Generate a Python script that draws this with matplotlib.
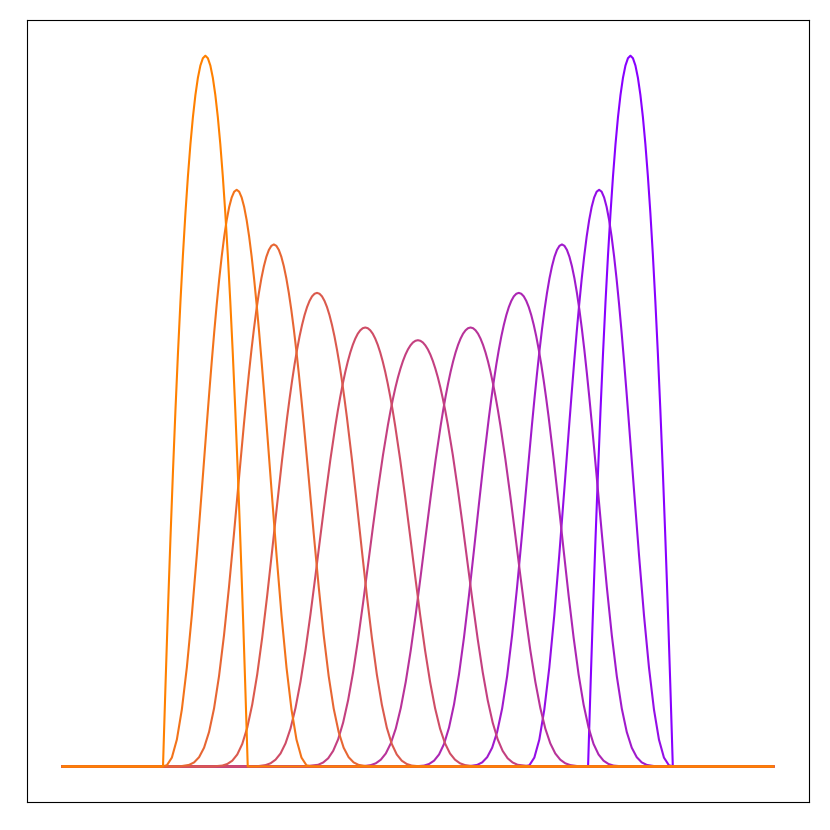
import numpy as np
import matplotlib
matplotlib.use("Agg")
import matplotlib.pyplot as plt

# horizontal extent of every line (flat zero outside the bumps)
x_start = 62
x_end = 775

# peak positions of the 11 bumps, left to right
centers = [205.3, 236.7, 274.0, 317.3, 365.7, 418.5, 471.3, 519.7, 563.0, 600.3, 631.7]

# which half-profile each bump uses (chart is mirror symmetric)
shape_of = [0, 1, 2, 3, 4, 5, 4, 3, 2, 1, 0]

# half profiles: distance from the peak -> height
d0 = [0, 2.5, 5, 7.5, 10, 12.5, 15, 17.5, 20, 22.5, 25, 27.5, 30, 32.5, 35,
      36.5, 38, 40, 41.5, 42.5]
h0 = [710.3, 707.8, 700.5, 688.2, 671.0, 648.9, 621.8, 589.8, 553.0, 511.2,
      464.5, 412.9, 356.4, 294.9, 228.6, 186.4, 142.5, 81.1, 33.0, 0]

d1 = [0, 2.5, 5, 7.5, 10, 12.5, 15, 17.5, 20, 22.5, 25, 27.5, 30, 35, 40, 45,
      50, 55, 60, 65, 70, 75]
h1 = [576.3, 574.4, 568.6, 559.2, 546.1, 529.6, 509.8, 487.2, 461.9, 434.3,
      404.7, 373.7, 341.6, 275.8, 211.2, 151.0, 98.8, 56.9, 26.9, 8.9, 1.2, 0]

d2 = [0, 2.5, 5, 7.5, 10, 12.5, 15, 17.5, 20, 22.5, 25, 27.5, 30, 35, 40, 45,
      50, 55, 60, 65, 70, 75, 80, 85, 95]
h2 = [521.7, 520.3, 516.2, 509.4, 499.9, 487.9, 473.3, 456.4, 437.2, 416.0,
      392.9, 368.3, 342.4, 288.0, 232.6, 179.4, 131.2, 90.3, 58.0, 34.5, 18.8,
      9.3, 4.1, 1.6, 0]

d3 = [0, 2.5, 5, 7.5, 10, 12.5, 15, 17.5, 20, 22.5, 25, 27.5, 30, 35, 40, 45,
      50, 55, 60, 65, 70, 75, 80, 85, 90, 95, 105]
h3 = [473.3, 472.4, 469.8, 465.3, 459.1, 451.1, 441.3, 429.9, 416.7, 402.0,
      385.6, 367.8, 348.7, 307.0, 262.1, 215.9, 170.7, 128.8, 92.0, 61.9, 38.8,
      22.5, 12.0, 5.8, 2.5, 0.9, 0]

d4 = [0, 2.5, 5, 7.5, 10, 12.5, 15, 17.5, 20, 22.5, 25, 27.5, 30, 35, 40, 45,
      50, 55, 60, 65, 70, 75, 80, 85, 90, 95, 100, 110]
h4 = [438.7, 438.0, 435.9, 432.5, 427.6, 421.4, 413.8, 404.8, 394.5, 382.8,
      369.9, 355.8, 340.4, 306.7, 269.5, 230.3, 190.5, 151.8, 116.0, 84.6, 58.4,
      37.9, 23.1, 13.0, 6.8, 3.2, 1.4, 0]

d5 = [0, 2.5, 5, 7.5, 10, 12.5, 15, 17.5, 20, 22.5, 25, 27.5, 30, 35, 40, 45,
      50, 55, 60, 65, 70, 75, 80, 85, 90, 95, 100, 115]
h5 = [426.0, 425.4, 423.7, 420.8, 416.8, 411.6, 405.2, 397.6, 388.9, 378.9,
      367.6, 355.3, 341.7, 311.4, 277.2, 240.3, 201.8, 163.5, 127.2, 94.3, 66.3,
      43.9, 27.2, 15.6, 8.2, 4.0, 1.7, 0]

profiles = [(d0, h0), (d1, h1), (d2, h2), (d3, h3), (d4, h4), (d5, h5)]

colors = ['#ff8000', '#f3731a', '#e76633', '#db5a4d', '#cf4d66', '#c44080',
          '#b83399', '#ac26b3', '#a01acc', '#940de6', '#8800ff']

fig = plt.figure(figsize=(8.3, 8.3), dpi=100)
ax = fig.add_axes([0.0325, 0.0337, 0.942, 0.942])

# purple drawn first so the orange ones sit on top along the baseline
for i in reversed(range(len(centers))):
    d, h = profiles[shape_of[i]]
    d = np.array(d)
    h = np.array(h)
    x = np.concatenate([[x_start], centers[i] - d[::-1], centers[i] + d[1:], [x_end]])
    y = np.concatenate([[0], h[::-1], h[1:], [0]])
    ax.plot(x, y, color=colors[i], linewidth=1.5, solid_joinstyle='round')

ax.set_xticks([])
ax.set_yticks([])

fig.savefig('out.png', dpi=100)
